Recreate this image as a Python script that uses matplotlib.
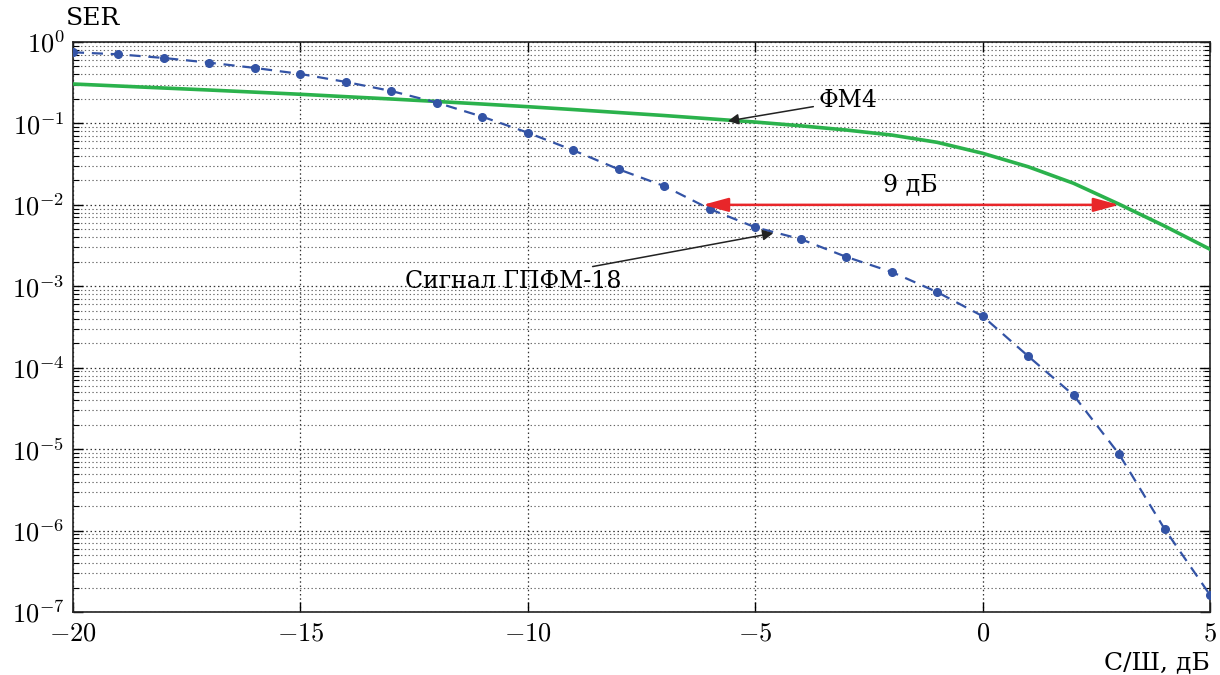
import matplotlib
matplotlib.use("Agg")
import matplotlib.pyplot as plt
from matplotlib.ticker import LogLocator, NullFormatter

plt.rcParams['mathtext.fontset'] = 'cm'
plt.rcParams['font.family'] = ['DejaVu Serif']

snr = list(range(-20, 6))
ser_gpfm = [0.747, 0.706, 0.636, 0.557, 0.48, 0.405, 0.323, 0.25, 0.18, 0.121,
            0.077, 0.0468, 0.0273, 0.017, 0.0089, 0.0053, 0.0038, 0.0023, 0.0015,
            0.00085, 4.3e-4, 1.39e-4, 4.6e-5, 8.7e-6, 1.05e-6, 1.62e-7]
ser_fm4 = [0.305, 0.288, 0.272, 0.257, 0.242, 0.228, 0.213, 0.1995, 0.186, 0.173,
           0.1605, 0.148, 0.136, 0.125, 0.114, 0.104, 0.0935, 0.083, 0.072,
           0.0586, 0.043, 0.0294, 0.0184, 0.0102, 0.0055, 0.00285]

xticks = [-20, -15, -10, -5, 0, 5]
xtick_labels = [r'$-20$', r'$-15$', r'$-10$', r'$-5$', r'$0$', r'$5$']
yticks = [1e-7, 1e-6, 1e-5, 1e-4, 1e-3, 1e-2, 1e-1, 1e0]
ytick_labels = [r'$10^{-7}$', r'$10^{-6}$', r'$10^{-5}$', r'$10^{-4}$',
                r'$10^{-3}$', r'$10^{-2}$', r'$10^{-1}$', r'$10^{0}$']

gap_start, gap_end, gap_level = -6.15, 3.0, 1e-2

fig = plt.figure(figsize=(12.2, 6.75), dpi=100)
ax = fig.add_axes([0.0598, 0.0933, 0.932, 0.8445])

ax.plot(snr, ser_fm4, color='#2bb24c', lw=2.6, zorder=3)
ax.plot(snr, ser_gpfm, color='#3353a5', lw=1.6, ls=(0, (5, 3.5)),
        marker='o', ms=5.5, zorder=4)

ax.set_yscale('log')
ax.set_xlim(-20, 5)
ax.set_ylim(1e-7, 1)
ax.set_xticks(xticks)
ax.set_xticklabels(xtick_labels)
ax.set_yticks(yticks)
ax.set_yticklabels(ytick_labels)
ax.yaxis.set_minor_locator(LogLocator(base=10, subs=range(2, 10), numticks=20))
ax.yaxis.set_minor_formatter(NullFormatter())
ax.tick_params(axis='both', which='major', direction='in', length=7, width=1,
               top=True, right=True, labelsize=19, pad=6)
ax.tick_params(axis='y', which='minor', direction='in', length=4, width=0.8,
               left=True, right=True)
ax.grid(True, which='major', axis='both', ls=(0, (1.2, 2.2)), color='#333333', lw=0.9)
ax.grid(True, which='minor', axis='y', ls=(0, (1.2, 2.2)), color='#666666', lw=0.8)
for s in ax.spines.values():
    s.set_linewidth(1.2)
    s.set_color('#222222')

# gap arrow
ax.annotate('', xy=(gap_end, gap_level), xytext=(gap_start, gap_level),
            arrowprops=dict(arrowstyle='<|-|>,head_length=1.1,head_width=0.3',
                            color='#e8262a', lw=1.8,
                            mutation_scale=14, shrinkA=0, shrinkB=0), zorder=5)
ax.text(-1.6, 1.27e-2, '9 дБ', fontsize=17, ha='center', va='bottom')

ax.annotate('ФМ4', xy=(-5.6, 0.107), xytext=(-3.6, 0.19),
            fontsize=17, ha='left', va='center',
            arrowprops=dict(arrowstyle='-|>', color='#222222', lw=1.1,
                            mutation_scale=16, shrinkA=2, shrinkB=0), zorder=6)
ax.annotate('Сигнал ГПФМ-18', xy=(-4.6, 4.5e-3), xytext=(-7.95, 1.15e-3),
            fontsize=17, ha='right', va='center',
            arrowprops=dict(arrowstyle='-|>', color='#222222', lw=1.1,
                            mutation_scale=16, shrinkA=2, shrinkB=0), zorder=6)

fig.text(0.054, 0.972, 'SER', fontsize=18, ha='left', va='center')
fig.text(0.992, 0.018, 'С/Ш, дБ', fontsize=18, ha='right', va='center')

fig.savefig('out.png', dpi=100, facecolor='white')
